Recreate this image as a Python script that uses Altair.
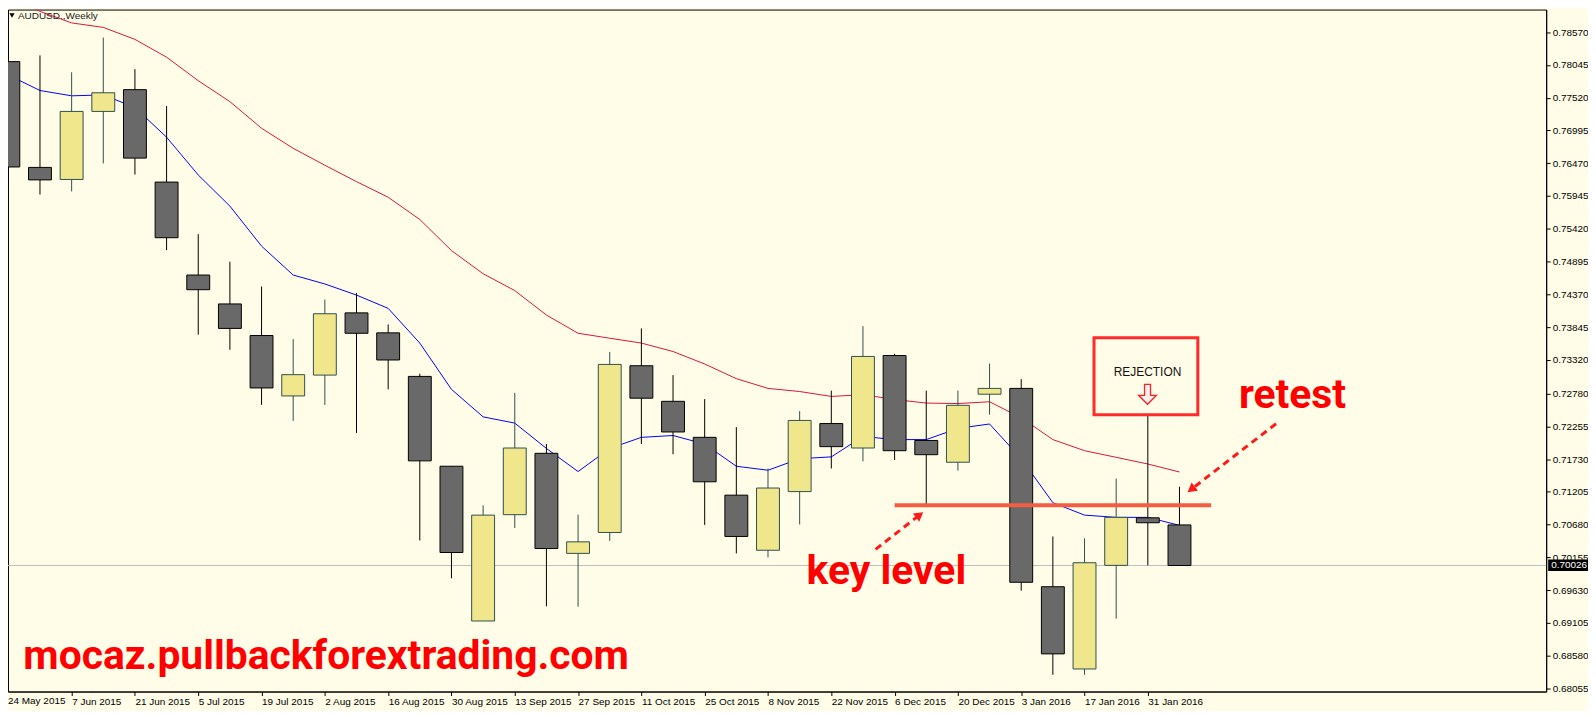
import json
import altair as alt
import pandas as pd

# ---------------- data ----------------
week_labels = ["24 May 2015", "31 May 2015", "7 Jun 2015", "14 Jun 2015", "21 Jun 2015", "28 Jun 2015",
               "5 Jul 2015", "12 Jul 2015", "19 Jul 2015", "26 Jul 2015", "2 Aug 2015", "9 Aug 2015",
               "16 Aug 2015", "23 Aug 2015", "30 Aug 2015", "6 Sep 2015", "13 Sep 2015", "20 Sep 2015",
               "27 Sep 2015", "4 Oct 2015", "11 Oct 2015", "18 Oct 2015", "25 Oct 2015", "1 Nov 2015",
               "8 Nov 2015", "15 Nov 2015", "22 Nov 2015", "29 Nov 2015", "6 Dec 2015", "13 Dec 2015",
               "20 Dec 2015", "27 Dec 2015", "3 Jan 2016", "10 Jan 2016", "17 Jan 2016", "24 Jan 2016",
               "31 Jan 2016", "7 Feb 2016"]

opens = [0.78098, 0.76403, 0.76210, 0.77300, 0.77649, 0.76168, 0.74679, 0.74216, 0.73710, 0.72742,
         0.73076, 0.74073, 0.73753, 0.73055, 0.71616, 0.69137, 0.70840, 0.71823, 0.70220, 0.70555,
         0.73226, 0.72656, 0.72079, 0.71153, 0.70270, 0.71210, 0.72300, 0.71908, 0.73390, 0.72029,
         0.71680, 0.72770, 0.72863, 0.69686, 0.68368, 0.70028, 0.70790, 0.70676]
highs = [0.78404, 0.78198, 0.77927, 0.78483, 0.77977, 0.77386, 0.75334, 0.74893, 0.74494, 0.73653,
         0.74287, 0.74394, 0.73888, 0.73098, 0.71616, 0.70989, 0.72791, 0.71972, 0.70840, 0.73447,
         0.73824, 0.73076, 0.72692, 0.72243, 0.71580, 0.72499, 0.72827, 0.73860, 0.73418, 0.72827,
         0.72827, 0.73262, 0.73012, 0.70491, 0.70462, 0.71417, 0.72435, 0.71288]
lows = [0.76161, 0.75968, 0.76018, 0.76467, 0.76289, 0.75078, 0.73724, 0.73482, 0.72599, 0.72343,
        0.72599, 0.72150, 0.72848, 0.70427, 0.69821, 0.69137, 0.70626, 0.69372, 0.69365, 0.70420,
        0.71972, 0.71808, 0.70676, 0.70220, 0.70156, 0.70683, 0.71580, 0.71694, 0.71716, 0.70961,
        0.71545, 0.72442, 0.69622, 0.68275, 0.68275, 0.69173, 0.70028, 0.70026]
closes = [0.76410, 0.76203, 0.77300, 0.77599, 0.76552, 0.75277, 0.74444, 0.73824, 0.72870, 0.73083,
          0.74059, 0.73746, 0.73318, 0.71702, 0.70234, 0.70833, 0.71908, 0.70298, 0.70405, 0.73247,
          0.72706, 0.72165, 0.71367, 0.70491, 0.71267, 0.72350, 0.71930, 0.73375, 0.71865, 0.71801,
          0.72592, 0.72863, 0.69757, 0.68610, 0.70070, 0.70797, 0.70711, 0.70026]

ma_fast = [0.77884, 0.77635, 0.77550, 0.77564, 0.77364, 0.76887, 0.76282, 0.75783, 0.75142, 0.74679,
           0.74536, 0.74358, 0.74145, 0.73589, 0.72848, 0.72407, 0.72307, 0.71901, 0.71531, 0.71901,
           0.72079, 0.72108, 0.71972, 0.71616, 0.71552, 0.71737, 0.71766, 0.72093, 0.72043, 0.72043,
           0.72222, 0.72293, 0.71737, 0.71032, 0.70833, 0.70797, 0.70797, 0.70669]
ma_slow = [0.79159, 0.78903, 0.78718, 0.78646, 0.78454, 0.78169, 0.77792, 0.77457, 0.77030, 0.76709,
           0.76438, 0.76175, 0.75925, 0.75569, 0.75071, 0.74700, 0.74430, 0.74038, 0.73746, 0.73667,
           0.73589, 0.73454, 0.73254, 0.73019, 0.72863, 0.72813, 0.72734, 0.72763, 0.72685, 0.72628,
           0.72620, 0.72649, 0.72392, 0.72043, 0.71865, 0.71759, 0.71652, 0.71524]

y_ticks = [0.78570, 0.78045, 0.77520, 0.76995, 0.76470, 0.75945, 0.75420, 0.74895, 0.74370, 0.73845,
           0.73320, 0.72780, 0.72255, 0.71730, 0.71205, 0.70680, 0.70155, 0.69630, 0.69105, 0.68580,
           0.68055]

current_price = 0.70026
key_level = 0.70990
key_level_span = [28, 38.0]

# annotations (candle index / price positions)
arrow_pts = {"arrow": ["key", "key", "retest", "retest"], "k": [0, 1, 0, 1],
             "i": [27.40, 28.79, 40.05, 37.37], "p": [0.70285, 0.70836, 0.72297, 0.71245]}
arrow_heads = {"i": [28.79, 37.37], "p": [0.70836, 0.71245], "angle": [52, 232]}
big_texts = {"label": ["mocaz.pullbackforextrading.com", "key level", "retest"],
             "i": [10.04, 27.74, 40.57], "p": [0.68374, 0.69729, 0.72548]}
rejection_box = {"i0": [34.30], "i1": [37.58], "p0": [0.73674], "p1": [0.72441]}
rejection_text = {"label": ["REJECTION"], "i": [35.99], "p": [0.73127]}
rejection_arrow = {"i": [35.99], "p": [0.72768]}
symbol_title = "AUDUSD.,Weekly"

# ---------------- layout ----------------
W, H = 1545, 685
X_DOMAIN = [0.147, 48.428]
Y_DOMAIN = [0.68007, 0.78932]
BG = "#fffde8"
AX_FONT = "Liberation Sans, Arial, sans-serif"
BIG_FONT = "Roboto, Liberation Sans, sans-serif"
RED = "#ff0000"

xs = alt.Scale(domain=X_DOMAIN, nice=False, zero=False)
ys = alt.Scale(domain=Y_DOMAIN, nice=False, zero=False)

x_axis = alt.Axis(values=list(range(2, len(week_labels), 2)),
                  labelExpr=json.dumps(week_labels) + "[datum.value]",
                  labelAlign="left", labelBaseline="top", labelPadding=1, tickSize=4,
                  tickColor="black", domainColor="black", labelColor="black",
                  labelFont=AX_FONT, labelFontSize=10, grid=False, title=None,
                  labelFlush=False, labelOverlap=False, labelBound=False)
y_axis = alt.Axis(values=y_ticks, format=".5f", orient="right", tickSize=4, labelPadding=2,
                  tickColor="black", domainColor="black", labelColor="black",
                  labelFont=AX_FONT, labelFontSize=10, grid=False, title=None, labelOverlap=False,
                  labelFlush=False, labelBound=False)


def X(f):
    return alt.X(f"{f}:Q", scale=xs, axis=x_axis)


def Y(f):
    return alt.Y(f"{f}:Q", scale=ys, axis=y_axis)


candles = pd.DataFrame({"i": list(range(len(opens))), "open": opens, "close": closes,
                        "high": highs, "low": lows, "week": week_labels})
candles["dir"] = ["bull" if c >= o else "bear" for o, c in zip(opens, closes)]
ma = pd.DataFrame({"i": list(range(len(ma_fast))), "fast": ma_fast, "slow": ma_slow})

fill_enc = alt.Fill("dir:N", scale=alt.Scale(domain=["bull", "bear"], range=["#f0e68c", "#696969"]), legend=None)
stroke_enc = alt.Stroke("dir:N", scale=alt.Scale(domain=["bull", "bear"], range=["#2f4f4f", "#000000"]), legend=None)

price_line = alt.Chart(pd.DataFrame({"p": [current_price]})).mark_rule(
    color="#c0c0c0", strokeWidth=1).encode(y=Y("p"))

slow_line = alt.Chart(ma).mark_line(color="#dc143c", strokeWidth=1, clip=True).encode(
    x=X("i"), y=Y("slow"))
fast_line = alt.Chart(ma).mark_line(color="#0000ff", strokeWidth=1, clip=True).encode(
    x=X("i"), y=Y("fast"))

wicks = alt.Chart(candles).mark_rule(strokeWidth=1, clip=True).encode(
    x=X("i"), y=Y("low"), y2="high", stroke=stroke_enc)
bodies = alt.Chart(candles).mark_bar(size=23, strokeWidth=1, clip=True).encode(
    x=X("i"), y=Y("open"), y2="close", fill=fill_enc, stroke=stroke_enc)

key_line = alt.Chart(pd.DataFrame({"a": [key_level_span[0]], "b": [key_level_span[1]], "p": [key_level]})
                     ).mark_rule(color="#f55d42", strokeWidth=4).encode(x=X("a"), x2="b", y=Y("p"))

arrows = alt.Chart(pd.DataFrame(arrow_pts)).mark_line(
    color="#ff1a1a", strokeWidth=3, strokeDash=[7, 5]).encode(
    x=X("i"), y=Y("p"), detail="arrow:N", order="k:Q")
heads = alt.Chart(pd.DataFrame(arrow_heads)).mark_point(
    shape="triangle-up", filled=True, size=110, color="#ff1a1a", opacity=1).encode(
    x=X("i"), y=Y("p"), angle=alt.Angle("angle:Q", scale=None))

texts = alt.Chart(pd.DataFrame(big_texts)).mark_text(
    font=BIG_FONT, fontSize=41, fontWeight="bold", color=RED, align="center",
    baseline="alphabetic").encode(x=X("i"), y=Y("p"), text="label:N")

box = alt.Chart(pd.DataFrame(rejection_box)).mark_rect(
    fillOpacity=0, stroke="#ff2a2a", strokeWidth=3).encode(
    x=X("i0"), x2="i1", y=Y("p0"), y2="p1")
box_text = alt.Chart(pd.DataFrame(rejection_text)).mark_text(
    font="Liberation Sans, Arial, sans-serif", fontSize=12, color="#111111",
    align="center", baseline="middle").encode(x=X("i"), y=Y("p"), text="label:N")
ARROW_PATH = "M -0.3 -1 L 0.3 -1 L 0.3 0.1 L 0.9 0.1 L 0 1 L -0.9 0.1 L -0.3 0.1 Z"
box_arrow = alt.Chart(pd.DataFrame(rejection_arrow)).mark_point(
    shape=ARROW_PATH, size=400, filled=True, fill="#fff0ee", stroke="#ff2020",
    strokeWidth=1.3, opacity=1).encode(x=X("i"), y=Y("p"))

title_tri = alt.Chart(pd.DataFrame({"t": [symbol_title]})).mark_point(
    shape="triangle-down", filled=True, size=28, color="black", opacity=1).encode(
    x=alt.value(4), y=alt.value(6))
title_txt = alt.Chart(pd.DataFrame({"t": [symbol_title]})).mark_text(
    font="Liberation Sans, sans-serif", fontSize=10, color="#222222", align="left",
    baseline="middle").encode(x=alt.value(10), y=alt.value(6), text="t:N")

first_label = alt.Chart(pd.DataFrame({"t": [week_labels[0]]})).mark_text(
    font=AX_FONT, fontSize=10, color="black", align="left", baseline="top").encode(
    x=alt.value(0), y=alt.value(H + 5), text="t:N")

price_box = alt.Chart(pd.DataFrame({"p": [current_price]})).mark_rect(
    color="black", yOffset=-6, y2Offset=5.5).encode(
    x=alt.value(W + 2), x2=alt.value(W + 42), y=Y("p"), y2="p")
price_txt = alt.Chart(pd.DataFrame({"p": [current_price]})).mark_text(
    font=AX_FONT, fontSize=10, color="white", align="left", baseline="middle").encode(
    x=alt.value(W + 5), y=Y("p"), text=alt.Text("p:Q", format=".5f"))

chart = alt.layer(
    price_line, slow_line, fast_line, wicks, bodies, key_line, arrows, heads,
    texts, box, box_text, box_arrow, title_tri, title_txt, first_label, price_box, price_txt
).properties(
    width=W, height=H,
    autosize=alt.AutoSizeParams(type="none"),
    padding={"left": 0, "top": 0, "right": 42, "bottom": 18},
    background=BG,
).configure_view(stroke="black", strokeWidth=1, fill=BG)

chart.save("out.html", embed_options={"renderer": "svg", "actions": False})
